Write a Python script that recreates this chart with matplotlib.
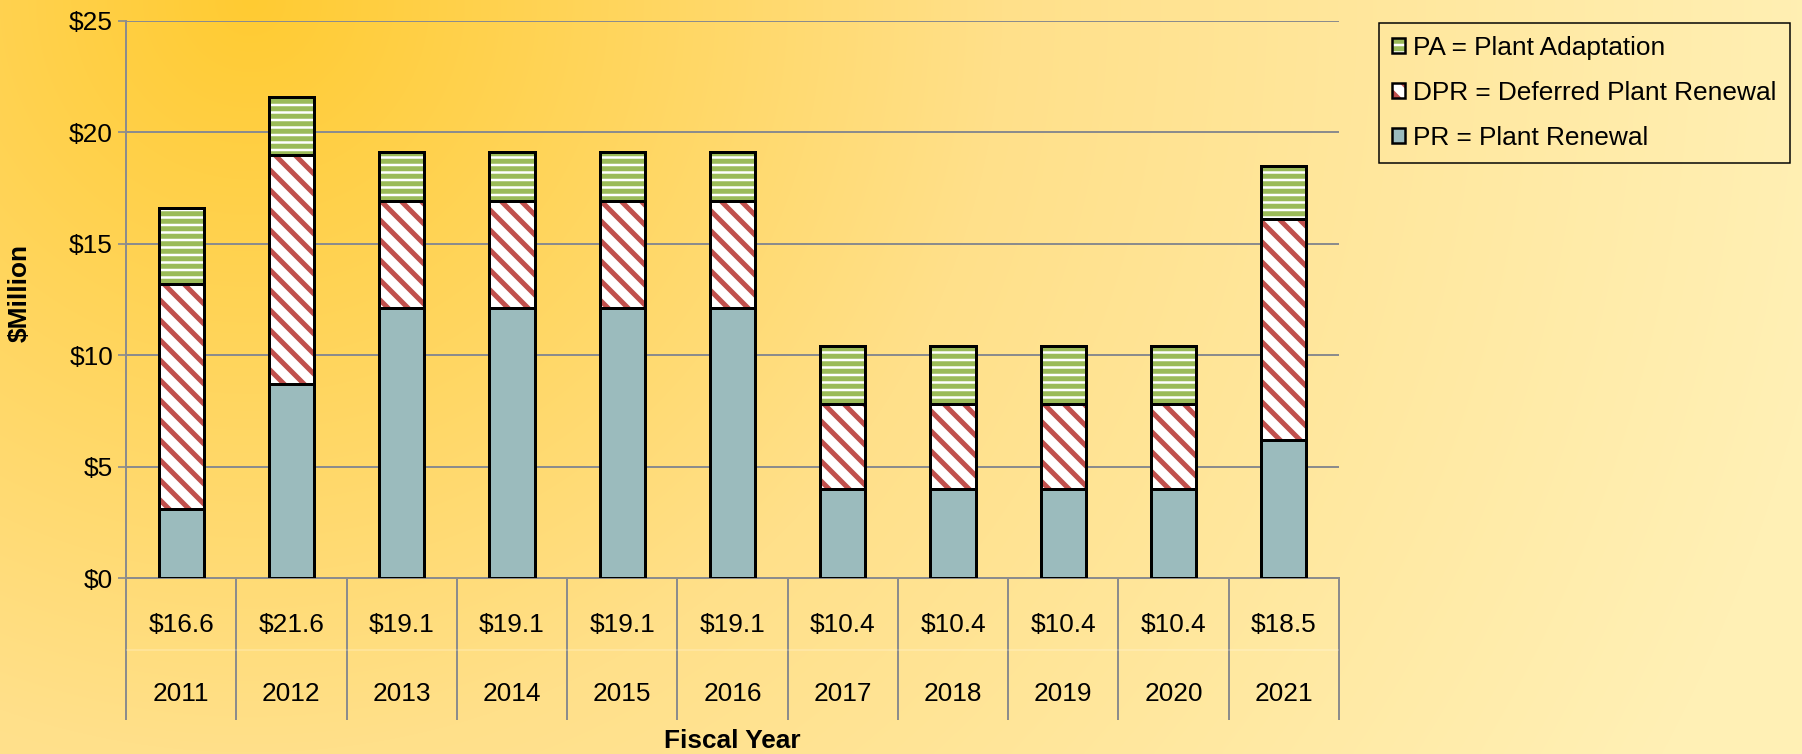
import matplotlib
matplotlib.use("Agg")
import matplotlib.pyplot as plt
import numpy as np
from matplotlib.patches import Patch
from matplotlib.legend_handler import HandlerTuple

plt.rcParams['font.family'] = ['Liberation Sans', 'DejaVu Sans']
plt.rcParams['hatch.linewidth'] = 2.0

# data ($ million)
years = ['2011', '2012', '2013', '2014', '2015', '2016', '2017', '2018', '2019', '2020', '2021']
pr = [3.1, 8.7, 12.1, 12.1, 12.1, 12.1, 4.0, 4.0, 4.0, 4.0, 6.2]
dpr = [10.1, 10.3, 4.8, 4.8, 4.8, 4.8, 3.8, 3.8, 3.8, 3.8, 9.9]
pa = [3.4, 2.6, 2.2, 2.2, 2.2, 2.2, 2.6, 2.6, 2.6, 2.6, 2.4]
totals = ['$16.6', '$21.6', '$19.1', '$19.1', '$19.1', '$19.1', '$10.4', '$10.4', '$10.4', '$10.4', '$18.5']

PR_COLOR = '#9BBBBD'
DPR_COLOR = '#C0504D'
PA_COLOR = '#9BBB59'
GRID = '#8C8C8C'
FS = 10.5
DPR_HATCH = '\\\\\\'
PA_HATCH = '----'

W, H, DPI = 1802, 754, 180
fig = plt.figure(figsize=(W / DPI, H / DPI), dpi=DPI)

# background gradient (orange at top left, fading to pale yellow)
bg = fig.add_axes([0, 0, 1, 1], zorder=-10)
yy, xx = np.mgrid[0:H, 0:W]
d = np.sqrt((xx - 250.0) ** 2 + (yy * 1.0) ** 2) / 1600.0
d = np.clip(d, 0, 1)
stops = np.array([0.0, 0.47, 1.0])
cols = np.array([[255, 203, 50], [255, 224, 138], [255, 240, 181]]) / 255.0
img = np.dstack([np.interp(d, stops, cols[:, k]) for k in range(3)])
bg.imshow(img, aspect='auto', extent=[0, 1, 0, 1], origin='upper')
bg.axis('off')

ax = fig.add_axes([126 / W, 1 - 578 / H, (1339 - 126) / W, (578 - 21) / H])
ax.patch.set_alpha(0)

x = np.arange(len(years)) + 0.5
bw = 0.41
pr = np.array(pr)
dpr = np.array(dpr)
pa = np.array(pa)

ax.bar(x, pr, width=bw, color=PR_COLOR, edgecolor='black', linewidth=1.2, zorder=3)
ax.bar(x, dpr, bottom=pr, width=bw, facecolor='white', edgecolor=DPR_COLOR,
       hatch=DPR_HATCH, linewidth=0, zorder=3)
ax.bar(x, dpr, bottom=pr, width=bw, facecolor='none', edgecolor='black', linewidth=1.2, zorder=4)
ax.bar(x, pa, bottom=pr + dpr, width=bw, facecolor='white', edgecolor=PA_COLOR,
       hatch=PA_HATCH, linewidth=0, zorder=3)
ax.bar(x, pa, bottom=pr + dpr, width=bw, facecolor='none', edgecolor='black', linewidth=1.2, zorder=4)

ax.set_xlim(0, len(years))
ax.set_ylim(0, 25)
ax.set_yticks([0, 5, 10, 15, 20, 25])
ax.set_yticklabels(['$0', '$5', '$10', '$15', '$20', '$25'], fontsize=FS)
ax.yaxis.grid(True, color=GRID, linewidth=0.8, zorder=0)
ax.set_axisbelow(True)
ax.tick_params(axis='y', length=3.2, width=0.7, color=GRID, pad=2)
ax.set_xticks([])
for s in ['top', 'right']:
    ax.spines[s].set_visible(False)
for s in ['left', 'bottom']:
    ax.spines[s].set_color(GRID)
    ax.spines[s].set_linewidth(0.8)

# category table under the axis
tr = ax.get_xaxis_transform()
ax.vlines(np.arange(len(years) + 1), -0.255, 0, transform=tr, colors=GRID,
          linewidth=0.8, clip_on=False)
ax.hlines(-0.129, 0, len(years), transform=tr, colors='white', alpha=0.25,
          linewidth=0.6, clip_on=False)
for xi, t, yr in zip(x, totals, years):
    ax.text(xi, -0.084, t, transform=tr, ha='center', va='center', fontsize=FS)
    ax.text(xi, -0.209, yr, transform=tr, ha='center', va='center', fontsize=FS)

fig.text(732 / W, 1 - 741 / H, 'Fiscal Year', ha='center', va='center',
         fontsize=FS, fontweight='bold')
fig.text(20 / W, 1 - 293 / H, '$Million', ha='center', va='center',
         rotation=90, fontsize=FS, fontweight='bold')

# legend
h_pa = (Patch(facecolor='white', edgecolor=PA_COLOR, hatch=PA_HATCH, linewidth=0),
        Patch(facecolor='none', edgecolor='black', linewidth=1.0))
h_dpr = (Patch(facecolor='white', edgecolor=DPR_COLOR, hatch=DPR_HATCH, linewidth=0),
         Patch(facecolor='none', edgecolor='black', linewidth=1.0))
h_pr = Patch(facecolor=PR_COLOR, edgecolor='black', linewidth=1.0)
leg = fig.legend([h_pa, h_dpr, h_pr],
                 ['PA = Plant Adaptation', 'DPR = Deferred Plant Renewal', 'PR = Plant Renewal'],
                 handler_map={tuple: HandlerTuple(ndivide=1)},
                 loc='upper left', bbox_to_anchor=(1379 / W, 1 - 23 / H),
                 bbox_transform=fig.transFigure, borderaxespad=0,
                 fontsize=FS, frameon=True, fancybox=False, framealpha=1,
                 facecolor='none', edgecolor='black', borderpad=0.5,
                 handlelength=0.5, handleheight=0.5, handletextpad=0.3,
                 labelspacing=0.8)
leg.get_frame().set_linewidth(0.6)

fig.savefig('out.png', dpi=DPI)
